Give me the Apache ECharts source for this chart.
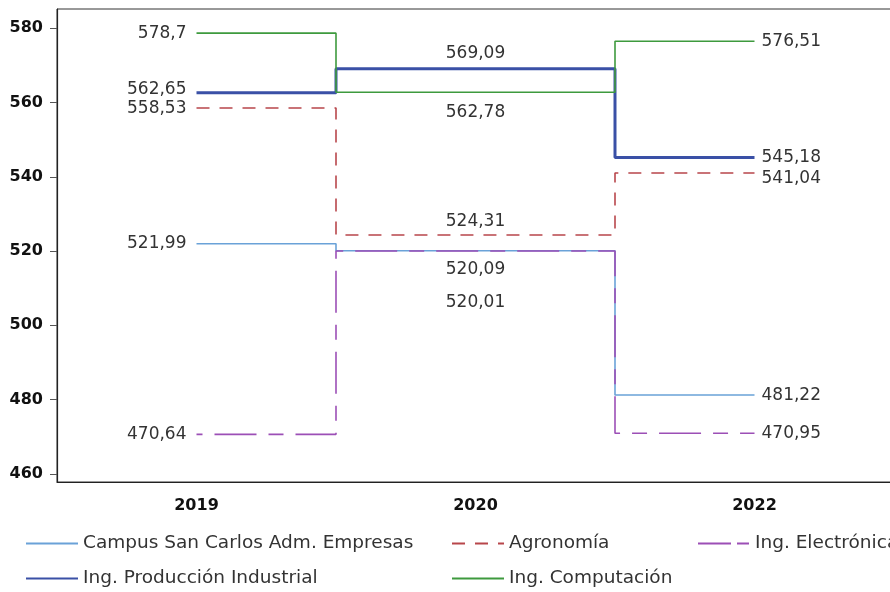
<!DOCTYPE html>
<html><head><meta charset="utf-8">
<script src="https://cdn.jsdelivr.net/npm/echarts@6/dist/echarts.min.js"></script>
<style>html,body{margin:0;padding:0;background:#fff}#c{width:890px;height:592px}</style>
</head><body><div id="c"></div>
<script>
var years = ['2019', '2020', '2022'];
var yTicks = [460, 480, 500, 520, 540, 560, 580];
var seriesNames = ['Campus San Carlos Adm. Empresas', 'Agronomía', 'Ing. Electrónica', 'Ing. Producción Industrial', 'Ing. Computación'];
var campusSanCarlos = [521.99, 520.09, 481.22];
var agronomia = [558.53, 524.31, 541.04];
var electronica = [470.64, 520.01, 470.95];
var produccion = [562.65, 569.09, 545.18];
var computacion = [578.7, 562.78, 576.51];

var FONT = 'DejaVu Sans';
function fmt(v){ return String(v).replace('.', ','); }
function build(vals, midPos, midDist, offs){
  return vals.map(function(v, i){
    var lab;
    if (i === 0) lab = {position:'left', distance:10, offset:[0, offs[0]]};
    else if (i === vals.length-1) lab = {position:'right', distance:7, offset:[0, offs[1]]};
    else lab = {position: midPos, distance: midDist};
    lab.show = true;
    lab.formatter = function(p){ return fmt(p.value); };
    lab.color = '#333';
    lab.opacity = 1;
    lab.fontFamily = FONT;
    lab.fontSize = 17;
    return {value: v, label: lab};
  });
}
var colors = ['#6aa2d8', '#b8464b', '#9c4fb6', '#3a50a6', '#3e9a3e'];
function mk(idx, data, lw, type, dashOffset){
  return {
    name: seriesNames[idx], type: 'line', step: 'middle', data: data,
    symbol: 'circle', symbolSize: 0.01, showSymbol: true, animation: false,
    lineStyle: {color: colors[idx], width: lw, type: type, dashOffset: dashOffset || 0},
    itemStyle: {color: colors[idx]},
    emphasis: {disabled: true}
  };
}
var series = [
  mk(0, build(campusSanCarlos, 'bottom', 10, [0, 1]), 1.6, 'solid'),
  mk(1, build(agronomia, 'top', 5, [1, 6]), 1.6, [13, 10]),
  mk(2, build(electronica, 'bottom', 43, [0, 0]), 1.6, [42, 12, 15, 12], 63),
  mk(3, build(produccion, 'top', 7, [-3, 0]), 3, 'solid'),
  mk(4, build(computacion, 'bottom', 12, [0, 0]), 1.6, 'solid')
];
function mkLegend(leftPos, names, lineStyle){
  var l = {
    show: true, left: leftPos, top: 534, padding: 0, orient: 'vertical', itemWidth: 52, itemHeight: 14, itemGap: 16,
    data: names,
    selectedMode: false,
    itemStyle: {opacity: 0},
    textStyle: {fontFamily: FONT, fontSize: 18.5, color: '#333'}
  };
  if (lineStyle) l.lineStyle = lineStyle;
  return l;
}
var chart = echarts.init(document.getElementById('c'), null, {renderer: 'canvas'});
chart.setOption({
  animation: false,
  color: colors,
  grid: {left: 57, top: 9, width: 837, height: 473, show: true, borderColor: '#333', borderWidth: 1, containLabel: false, outerBoundsMode: 'none'},
  xAxis: {
    type: 'category', data: years, boundaryGap: true,
    axisLine: {lineStyle: {color: '#222', width: 1.2}},
    axisTick: {alignWithLabel: true, length: 7, lineStyle: {color: '#555'}},
    axisLabel: {fontFamily: FONT, fontWeight: 'bold', fontSize: 16, color: '#111', margin: 16},
    splitLine: {show: false}
  },
  yAxis: {
    type: 'value', min: 457.8, max: 585.2,
    axisLine: {show: true, lineStyle: {color: '#222', width: 1.2}},
    axisTick: {show: true, length: 7, customValues: yTicks, lineStyle: {color: '#555'}},
    axisLabel: {customValues: yTicks, fontFamily: FONT, fontWeight: 'bold', fontSize: 16, color: '#111', margin: 14},
    splitLine: {show: false}
  },
  legend: [
    mkLegend(25, [seriesNames[0], seriesNames[3]]),
    mkLegend(451, [seriesNames[1], seriesNames[4]]),
    mkLegend(697, [seriesNames[2]], {type: [33, 6, 12, 20], dashOffset: 0})
  ],
  series: series
});
</script></body></html>
